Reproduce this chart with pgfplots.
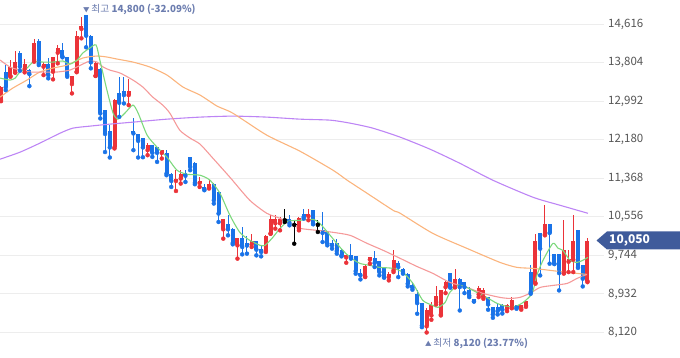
\documentclass[border=0pt]{standalone}
\usepackage{fontspec}
\setmainfont{Noto Sans CJK KR}
\usepackage{pgfplots}
\usepackage{pgfplotstable}
\pgfplotsset{compat=1.18}
\definecolor{cred}{HTML}{EB3339}
\definecolor{cblue}{HTML}{1A73E8}
\definecolor{mafive}{HTML}{7DD87D}
\definecolor{matwenty}{HTML}{F59A9A}
\definecolor{masixty}{HTML}{FBB47D}
\definecolor{maonetwenty}{HTML}{BD85F5}
\definecolor{tagc}{HTML}{3F5B9B}
\definecolor{annc}{HTML}{6C7DAF}
\definecolor{tickc}{HTML}{555555}
\definecolor{gridc}{HTML}{EDEDED}

\pgfplotstableread{
i o h l c
0 13013 13300 12990 13287
2 13519 13857 13505 13703
3 13597 14053 13590 13808
5 13667 13872 13597 13772
7 13857 14300 13821 14222
9 13716 13821 13540 13772
11 13610 13928 13450 13914
12 14011 14173 13787 14103
15 13351 13530 13154 13526
16 13610 14475 13600 14363
17 14511 14770 14314 14580
20 13526 13821 13520 13787
24 12016 13028 11995 13013
27 13119 13456 12908 13203
31 11959 12100 11853 12064
34 11902 11965 11783 11959
37 11311 11537 11100 11361
38 11361 11537 11256 11467
42 11269 11395 11185 11311
44 11172 11340 11151 11256
47 10292 10520 10096 10518
50 9955 10120 9675 10117
53 9976 10187 9920 10046
56 9850 10166 9815 10145
57 10201 10588 10200 10518
58 10420 10588 10307 10504
59 10420 10553 10271 10504
63 10307 10553 10271 10539
65 10570 10729 10483 10620
73 9700 9750 9589 9744
77 9301 9540 9287 9519
78 9655 9700 9568 9700
82 9287 9392 9217 9357
83 9428 9850 9392 9653
90 8250 8640 8120 8600
91 8479 8768 8388 8690
92 8760 9091 8711 8880
93 8500 9010 8479 9006
94 9076 9203 8950 9181
96 9076 9463 9070 9253
101 8921 9091 8865 9063
102 8865 9063 8830 9006
107 8620 8725 8570 8690
108 8640 8870 8630 8800
110 8640 8700 8600 8690
111 8690 8800 8660 8790
113 9160 10187 9147 10046
115 10187 10799 10166 10398
119 9371 10497 9360 9850
120 9610 9850 9392 9674
121 9653 10588 9392 10046
124 9202 10100 9180 10050
}\upc

\pgfplotstableread{
i o h l c
1 13597 13751 13224 13281
4 14011 14053 13631 13716
6 13646 13660 13308 13561
8 14257 14293 13751 13787
10 13772 13893 13471 13540
13 14068 14209 13914 13927
14 13927 13930 13505 13540
18 14800 14800 14125 14369
19 14369 14380 13682 13808
21 13667 13680 12627 12733
22 12800 12810 11920 12300
23 12366 12486 11805 12016
25 13154 13505 12661 12956
26 13203 13505 12944 13119
28 12366 12627 11959 12311
29 12296 12300 11805 12155
30 12205 12210 11810 12016
32 12064 12070 11818 11902
33 12016 12020 11712 11902
35 11902 11973 11431 11467
36 11467 11470 11185 11311
39 11470 11540 11290 11420
40 11805 11810 11537 11607
41 11698 11700 11241 11269
43 11190 11256 11115 11140
45 11256 11260 10835 10904
46 11079 11080 10447 10624
48 10398 10588 10166 10292
49 10306 10310 9976 10004
51 10117 10341 9765 9920
52 10004 10145 9780 9950
54 10046 10050 9744 9864
55 9885 9955 9723 9815
61 10504 10588 10377 10420
64 10609 10729 10518 10553
66 10694 10700 10398 10413
68 10285 10658 10025 10215
69 10236 10240 9955 9991
70 10004 10075 9885 9955
71 10004 10096 9780 9836
72 9864 9870 9723 9744
74 9744 9976 9675 9695
75 9723 9730 9358 9413
76 9372 9463 9238 9325
79 9695 9835 9498 9582
80 9624 9630 9322 9392
81 9498 9500 9273 9287
84 9582 9624 9287 9498
85 9463 9470 9358 9392
86 9343 9372 9090 9147
87 9112 9183 9021 9063
88 8936 9006 8515 8738
89 8738 8740 8232 8268
95 9371 9375 9063 9076
97 9253 9260 8584 9076
98 9181 9185 8950 9076
99 9006 9076 8865 8900
100 8830 8835 8770 8780
103 8865 8870 8599 8711
104 8654 8660 8430 8500
105 8654 8711 8500 8570
106 8690 8711 8520 8600
109 8690 8700 8620 8640
112 9392 9533 8936 8970
114 10215 10220 9322 9885
116 10398 10400 9569 10215
117 9765 9770 9560 9569
118 9765 9770 9006 9371
122 10271 10285 9480 9498
123 9548 9550 9090 9253
}\downc

\pgfplotstableread{
i o h l c
60 10497 10729 10447 10497
62 10398 10469 9990 10398
67 10398 10483 10236 10398
}\dojic

\begin{document}
\begin{tikzpicture}
\path[use as bounding box] (0,0) rectangle (680bp,358bp);
\begin{axis}[
  at={(0,0)}, anchor=south west,
  scale only axis, width=604bp, height=358bp,
  xmin=-0.21, xmax=127.5, ymin=7583, ymax=15121,
  clip=false,
  axis line style={draw=none},
  major tick length=0pt,
  xtick=\empty,
  scaled y ticks=false,
  ytick={8120,8932,9744,10556,11368,12180,12992,13804,14616},
  yticklabels={{8,120},{8,932},{9,744},{10,556},{11,368},{12,180},{12,992},{13,804},{14,616}},
  yticklabel pos=right,
  yticklabel style={anchor=west, inner sep=0pt, xshift=4bp, text=tickc, font=\fontsize{11.5bp}{13bp}\selectfont},
  ymajorgrids, grid style={draw=gridc, line width=0.9bp},
]
% wicks
\addplot[forget plot, only marks, mark=none, color=cred,
  error bars/.cd, y dir=plus, y explicit, error mark=none,
  error bar style={draw=cred, line width=1bp}]
  table[x=i, y=l, y error plus expr={\thisrow{h}-\thisrow{l}}] {\upc};
\addplot[forget plot, only marks, mark=none, color=cblue,
  error bars/.cd, y dir=plus, y explicit, error mark=none,
  error bar style={draw=cblue, line width=1bp}]
  table[x=i, y=l, y error plus expr={\thisrow{h}-\thisrow{l}}] {\downc};
\addplot[forget plot, only marks, mark=none, color=black,
  error bars/.cd, y dir=plus, y explicit, error mark=none,
  error bar style={draw=black, line width=1bp}]
  table[x=i, y=l, y error plus expr={\thisrow{h}-\thisrow{l}}] {\dojic};
% bodies
\addplot[forget plot, only marks, mark=none, color=cred,
  error bars/.cd, y dir=plus, y explicit, error mark=none,
  error bar style={draw=cred, line width=4bp}]
  table[x=i, y=o, y error plus expr={\thisrow{c}-\thisrow{o}}] {\upc};
\addplot[forget plot, only marks, mark=none, color=cblue,
  error bars/.cd, y dir=plus, y explicit, error mark=none,
  error bar style={draw=cblue, line width=4bp}]
  table[x=i, y=c, y error plus expr={\thisrow{o}-\thisrow{c}}] {\downc};
\addplot[forget plot, only marks, mark=none, color=black,
  error bars/.cd, y dir=plus, y explicit, error mark=none,
  error bar style={draw=black, line width=4.6bp}]
  table[x=i, y expr={\thisrow{o}-12}, y error plus expr={24}] {\dojic};
% moving averages
\addplot[maonetwenty, line width=1.1bp, smooth, tension=0.4, mark=none] coordinates {
(-0.2,11769) (4,11916) (8.2,12106) (12.5,12317) (15.2,12423) (18.8,12465) (23,12507) (27.9,12549) (35.1,12612) (42.1,12655) (49,12676) (56.2,12655) (63.2,12612) (69.6,12591) (73.8,12528) (78.6,12423) (84.4,12233) (90.7,11980) (97,11684) (104,11326) (112.5,10967) (118.2,10799) (124.1,10630)
};
\addplot[masixty, line width=1.1bp, smooth, tension=0.4, mark=none] coordinates {
(-0.2,13076) (2.5,13266) (5.5,13435) (8.2,13604) (11,13688) (14,13751) (17.3,13899) (20.3,13941) (22.4,13920) (24.5,13878) (27.9,13814) (31.5,13709) (35.1,13540) (38.5,13287) (42.1,13118) (45.7,12886) (49,12739) (56.2,12275) (63.2,11938) (70.2,11537) (73.2,11326) (77.4,11052) (82.9,10693) (84.4,10630) (91.3,10207) (98.5,9892) (105.5,9596) (109.1,9491) (112.5,9470) (116.1,9428) (119.7,9386) (123.9,9343)
};
\addplot[matwenty, line width=1.1bp, smooth, tension=0.4, mark=none] coordinates {
(-0.2,13857) (1.9,13709) (4,13646) (6.1,13604) (8.9,13604) (11.8,13604) (14.6,13646) (17.3,13772) (18.8,13836) (20.3,13814) (21.6,13709) (23,13646) (25.2,13582) (27.9,13435) (30,13287) (32.1,13076) (34.2,12908) (35.7,12739) (37.8,12380) (40,12212) (42.1,12085) (44.8,11790) (48.4,11389) (52.6,10904) (56.2,10630) (59,10524) (61.1,10419) (63.2,10313) (66.8,10271) (70.2,10229) (73.8,10166) (77.4,9997) (80.8,9850) (84.4,9681) (87.9,9512) (91.3,9365) (94.9,9175) (98.5,9069) (101.9,8943) (105.5,8859) (107.6,8837) (109.7,8859) (111.8,8943) (114,9069) (116.7,9111) (119.7,9153) (121.8,9259) (123.9,9343)
};
\addplot[mafive, line width=1.1bp, smooth, tension=0.4, mark=none] coordinates {
(-0.2,13477) (1.9,13435) (3,13477) (4,13604) (5.5,13688) (6.8,13814) (8.9,13814) (11,13814) (13.1,13836) (14.6,13772) (16.1,13857) (17.3,14004) (18.8,14110) (20.1,14173) (20.9,13857) (22.4,13224) (23.7,12739) (24.7,12612) (26.2,12739) (27.9,12908) (29,12739) (30.9,12275) (33,12022) (35.1,11811) (37.2,11537) (39.3,11452) (42.1,11431) (44.2,11326) (46.3,11052) (48.4,10588) (50.5,10229) (52.6,10060) (54.8,9955) (55.8,9955) (57.3,10102) (59,10313) (60.7,10461) (63.2,10482) (66,10503) (67.4,10419) (69.6,10166) (71.7,9913) (73.8,9702) (75.9,9575) (78,9533) (80.1,9491) (82.9,9470) (85,9386) (87.1,9153) (89.2,8795) (91.3,8690) (92.4,8648) (93.9,8753) (94.9,8964) (96.6,9111) (98.5,9069) (100.6,8964) (102.7,8859) (104.9,8732) (107,8669) (108.7,8669) (110.4,8753) (112.3,8943) (113.3,9322) (114.6,9639) (116.7,9997) (117.8,9892) (118.8,9850) (120.3,9639) (121.8,9596) (123,9639) (124.1,9702)
};
\end{axis}
\begin{scope}[x=1bp, y=-1bp, yshift=358bp]
\fill[tagc] (596.5,240.5) -- (607,231.5) -- (682,231.5) -- (682,249.5) -- (607,249.5) -- cycle;
\node[anchor=west, text=white, inner sep=0pt, font=\bfseries\fontsize{12bp}{12bp}\selectfont] at (609,240.5) {10,050};
\node[anchor=west, text=annc, inner sep=0pt, font=\fontsize{9.8bp}{11bp}\selectfont] at (83,9) {{\fontsize{6.5bp}{7bp}\selectfont ▼}\,최고 \textbf{14,800 (-32.09\%)}};
\node[anchor=west, text=annc, inner sep=0pt, font=\fontsize{9.8bp}{11bp}\selectfont] at (425,343) {{\fontsize{6.5bp}{7bp}\selectfont ▲}\,최저 \textbf{8,120 (23.77\%)}};
\end{scope}
\end{tikzpicture}
\end{document}
